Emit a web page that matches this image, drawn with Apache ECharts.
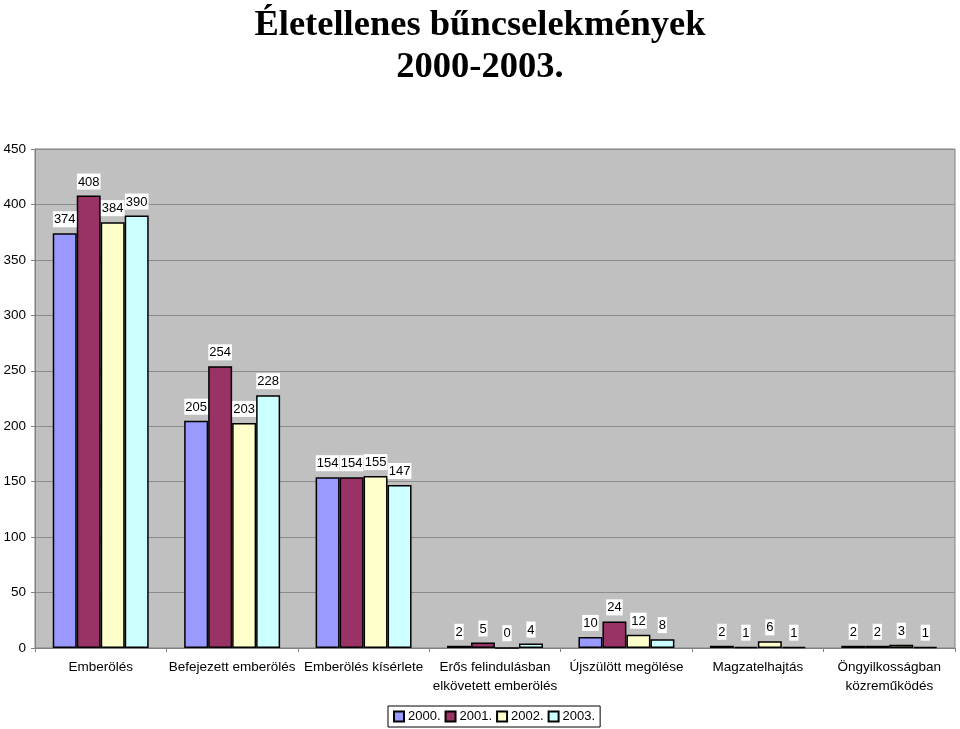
<!DOCTYPE html>
<html><head><meta charset="utf-8">
<script src="https://cdn.jsdelivr.net/npm/echarts@6/dist/echarts.min.js"></script>
<style>html,body{margin:0;padding:0;background:#fff}#c{width:960px;height:729px}</style>
</head><body><div id="c"></div>
<script>
const categories = ["Emberölés","Befejezett emberölés","Emberölés kísérlete","Erős felindulásban\nelkövetett emberölés","Újszülött megölése","Magzatelhajtás","Öngyilkosságban\nközreműködés"];
const seriesNames = ["2000.","2001.","2002.","2003."];
const v2000 = [374,205,154,2,10,2,2];
const v2001 = [408,254,154,5,24,1,2];
const v2002 = [384,203,155,0,12,6,3];
const v2003 = [390,228,147,4,8,1,1];
const colors = ["#9999ff","#993366","#ffffcc","#ccffff"];
const allValues = [v2000,v2001,v2002,v2003];

const chart = echarts.init(document.getElementById('c'));
chart.setOption({
  animation:false,
  title:{text:"Életellenes bűncselekmények\n2000-2003.",left:'center',top:0,
    textStyle:{fontFamily:"Liberation Serif",fontWeight:'bold',fontSize:36.5,lineHeight:42,color:'#000'}},
  grid:{left:35,right:5,top:149,bottom:81,show:true,backgroundColor:'#c0c0c0',borderColor:'#808080',borderWidth:1},
  legend:{bottom:2,left:388,itemWidth:10,itemHeight:10,itemGap:4,padding:[4,5],
    borderColor:'#000',borderWidth:1,backgroundColor:'#fff',
    textStyle:{fontFamily:"Liberation Sans",fontSize:13,color:'#000',padding:[0,0,0,-1]},
    data:seriesNames.map(n=>({name:n,icon:'rect'}))},
  xAxis:{type:'category',data:categories,
    axisLine:{lineStyle:{color:'#808080'}},
    axisTick:{show:true,length:4,lineStyle:{color:'#808080'}},
    axisLabel:{interval:0,fontFamily:"Liberation Sans",fontSize:13.5,color:'#000',margin:10,lineHeight:19}},
  yAxis:{type:'value',min:0,max:450,interval:50,
    axisLine:{show:true,lineStyle:{color:'#808080'}},
    axisTick:{show:true,length:4,lineStyle:{color:'#808080'}},
    axisLabel:{fontFamily:"Liberation Sans",fontSize:13.5,color:'#000',margin:9},
    splitLine:{lineStyle:{color:'#8c8c8c'}}},
  series:allValues.map((vals,i)=>({
    name:seriesNames[i],type:'bar',data:vals,barGap:'0%',barCategoryGap:'27%',
    itemStyle:{color:colors[i],borderColor:'#000',borderWidth:1.5},
    label:{show:true,position:'top',distance:6,fontFamily:"Liberation Sans",fontSize:13,color:'#000',
      backgroundColor:'#fff',padding:[2,1,1,1]}
  }))
});
</script></body></html>
